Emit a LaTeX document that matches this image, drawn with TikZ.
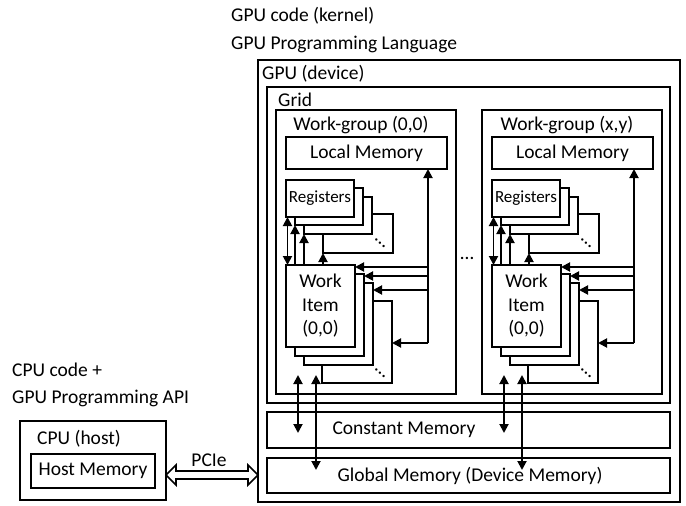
\documentclass[tikz,border=0pt]{standalone}
\usepackage{fontspec}
\setmainfont{Carlito}
\usetikzlibrary{arrows.meta,calc}

% one work-group: #1 = name prefix, #2 = horizontal shift, #3 = title
\newcommand\wgroup[3]{%
\begin{scope}[xshift=#2]
  \node[box, minimum width=180pt, minimum height=284pt] (#1wg) at (276,110) {};
  \node[txt] (#1title) at (361,125) {#3};
  \node[box, minimum width=161pt, minimum height=32pt] (#1lm) at (286,137) {Local Memory};
  % register file stack, back to front
  \node[box, minimum width=70pt, minimum height=39pt] (#1regd) at (323,214) {};
  \node[box, minimum width=68pt, minimum height=37pt] (#1regc) at (304,197) {};
  \node[box, minimum width=68pt, minimum height=37pt] (#1regb) at (295,188) {};
  \node[box, minimum width=68pt, minimum height=37pt, font=\fontsize{17}{20}\selectfont] (#1rega) at (286,180) {Registers};
  \node[txt, rotate=-42] (#1rdots) at (380,243) {…};
  % work item stack, back to front
  \node[box, minimum width=70pt, minimum height=82pt] (#1wid) at (322,301) {};
  \node[box, minimum width=69pt, minimum height=82pt] (#1wic) at (304,283) {};
  \node[box, minimum width=69pt, minimum height=82pt] (#1wib) at (295,274) {};
  \node[box, minimum width=69pt, minimum height=82pt, align=center] (#1wia) at (286,265) {Work\\Item\\(0,0)};
  \node[txt, rotate=-42] (#1wdots) at (380,373) {…};
  % work items <-> registers
  \draw[both] ([xshift=1.5pt]#1wia.north west) -- ([xshift=1.5pt]#1rega.south west);
  \draw[arr] (#1wia.north -| #1regb.south west) -- (#1regb.south west);
  \draw[arr] (#1wia.north -| #1regc.south west) -- (#1regc.south west);
  \draw[arr] (#1wia.north -| #1regd.south west) -- (#1regd.south west);
  % work items <-> local memory
  \coordinate (#1v) at (428,343);
  \coordinate (#1h1) at (428,267);
  \coordinate (#1h2) at (428,276);
  \coordinate (#1h3) at (428,290);
  \draw[arr] (#1v) -- (#1v |- #1lm.south);
  \draw[arr] (#1h1) -- (#1h1 -| #1wia.east);
  \draw[arr] (#1h2) -- (#1h2 -| #1wib.east);
  \draw[arr] (#1h3) -- (#1h3 -| #1wic.east);
  \draw[arr] (#1v) -- (#1v -| #1wid.east);
  % work items <-> constant and global memory
  \coordinate (#1m1) at (298,375);
  \coordinate (#1m2) at (316,375);
  \coordinate (#1c1) at (298,433);
  \coordinate (#1g2) at (316,470);
  \draw[both] (#1m1) -- (#1c1);
  \draw[both] (#1m2) -- (#1g2);
\end{scope}}

\begin{document}
\begin{tikzpicture}[x=1pt,y=-1pt,
  box/.style={draw, line width=1.9pt, fill=white, inner sep=0pt, outer sep=0pt,
    anchor=north west, font=\fontsize{19.5}{23.5}\selectfont},
  txt/.style={inner sep=0pt, font=\fontsize{19.5}{23.5}\selectfont},
  arr/.style={line width=1.9pt, -{Triangle[length=9pt,width=9pt]}},
  both/.style={line width=1.9pt, {Triangle[length=9pt,width=9pt]}-{Triangle[length=9pt,width=9pt]}},
]
\useasboundingbox (0,0) rectangle (686,506);

% captions
\node[txt, anchor=west] (kernel) at (231,16) {GPU code (kernel)};
\node[txt, anchor=west] (lang) at (231,44) {GPU Programming Language};
\node[txt, anchor=west] (cpucode) at (12,370) {CPU code +};
\node[txt, anchor=west] (api) at (12,398) {GPU Programming API};

% device
\node[box, minimum width=422pt, minimum height=442pt] (gpu) at (258,60) {};
\node[txt, anchor=west] (gpulbl) at (262,74) {GPU (device)};
\node[box, minimum width=403pt, minimum height=316pt] (grid) at (267,87) {};
\node[txt, anchor=west] (gridlbl) at (278,100) {Grid};
\node[box, minimum width=403pt, minimum height=36pt] (cm) at (267,412) {};
\node[txt] (cmlbl) at (404,430) {Constant Memory};
\node[box, minimum width=403pt, minimum height=35pt] (gm) at (267,458) {};
\node[txt] (gmlbl) at (470,476) {Global Memory (Device Memory)};

\wgroup{a}{0pt}{Work-group (0,0)}
\wgroup{b}{206pt}{Work-group (x,y)}
\node[txt] (gap) at (467,258) {…};

% host
\node[box, minimum width=146pt, minimum height=79pt] (cpu) at (20,421) {};
\node[txt, anchor=west] (cpulbl) at (37,439) {CPU (host)};
\node[box, minimum width=124pt, minimum height=34pt] (hm) at (31,454) {Host Memory};

% PCIe link
\coordinate (pl) at (cpu.east |- 0,475);
\coordinate (pr) at (gpu.west |- 0,475);
\draw[line width=1.6pt, fill=white, line join=miter]
  (pl) -- ++(10,-10) -- ++(0,6) -- ($(pr)+(-10,-4)$) -- ++(0,-6) -- (pr)
  -- ++(-10,10) -- ++(0,-6) -- ($(pl)+(10,4)$) -- ++(0,6) -- cycle;
\node[txt] (pcie) at (209,460) {PCIe};
\end{tikzpicture}
\end{document}
